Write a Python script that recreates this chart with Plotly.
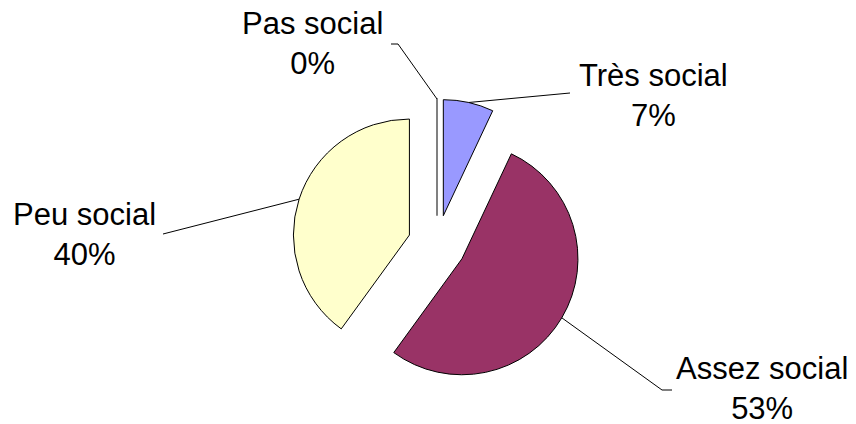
import math
import plotly.graph_objects as go

# ---- data ----
categories = ["Très social", "Assez social", "Peu social", "Pas social"]
values = [7, 53, 40, 0]
percent_labels = ["7%", "53%", "40%", "0%"]
colors = ["#9999FF", "#993366", "#FFFFCC", "#FFFFFF"]

# ---- layout constants (pixels) ----
W, H = 856, 424
CX, CY = 437, 244          # pie centre
PULL = 0.25
R = 116                    # pie radius
HALF = R * (1 + PULL)

dom_x = [(CX - HALF) / W, (CX + HALF) / W]
dom_y = [(H - CY - HALF) / H, (H - CY + HALF) / H]

# label positions (block centres) and leader-line outer points
label_pos = {
    "Très social": (653, 95),
    "Assez social": (762, 388),
    "Peu social": (84, 234),
    "Pas social": (312, 43),
}
leader_outer = {
    "Très social": [(570, 93)],
    "Assez social": [(662, 390), (672, 390)],
    "Peu social": [(163, 234)],
    "Pas social": [(398, 44), (391, 44)],
}

fig = go.Figure()
fig.add_trace(go.Pie(
    labels=categories,
    values=values,
    sort=False,
    direction="clockwise",
    rotation=0,
    pull=[PULL] * len(values),
    textinfo="none",
    hoverinfo="skip",
    showlegend=False,
    marker=dict(colors=colors,
                line=dict(color=["#000000", "#000000", "#000000", "#808080"],
                          width=[1, 1, 1, 2])),
    domain=dict(x=dom_x, y=dom_y),
))

# leader lines computed from slice mid-angles
total = sum(values)
cum = 0
shapes = []
annotations = []
for name, v, pct in zip(categories, values, percent_labels):
    mid = (cum + v / 2) / total * 2 * math.pi
    cum += v
    px = CX + HALF * math.sin(mid)
    py = CY - HALF * math.cos(mid)
    pts = [(px, py)] + leader_outer[name]
    path = "M " + " L ".join(f"{x:.1f},{y:.1f}" for x, y in pts)
    shapes.append(dict(type="path", path=path, xref="x", yref="y",
                       line=dict(color="#000000", width=1)))
    lx, ly = label_pos[name]
    annotations.append(dict(x=lx, y=ly, xref="x", yref="y",
                            text=f"{name}<br>{pct}", showarrow=False,
                            xanchor="center", yanchor="middle", align="center",
                            font=dict(family="Liberation Sans, Arial, sans-serif",
                                      size=31, color="#000000")))

fig.update_layout(
    width=W, height=H,
    margin=dict(l=0, r=0, t=0, b=0),
    paper_bgcolor="#FFFFFF",
    plot_bgcolor="rgba(0,0,0,0)",
    xaxis=dict(range=[0, W], visible=False, fixedrange=True),
    yaxis=dict(range=[H, 0], visible=False, fixedrange=True),
    shapes=shapes,
    annotations=annotations,
)

fig.write_html("out.html", config={"displayModeBar": False},
               post_script="document.body.style.margin='0';document.body.style.overflow='hidden';")
